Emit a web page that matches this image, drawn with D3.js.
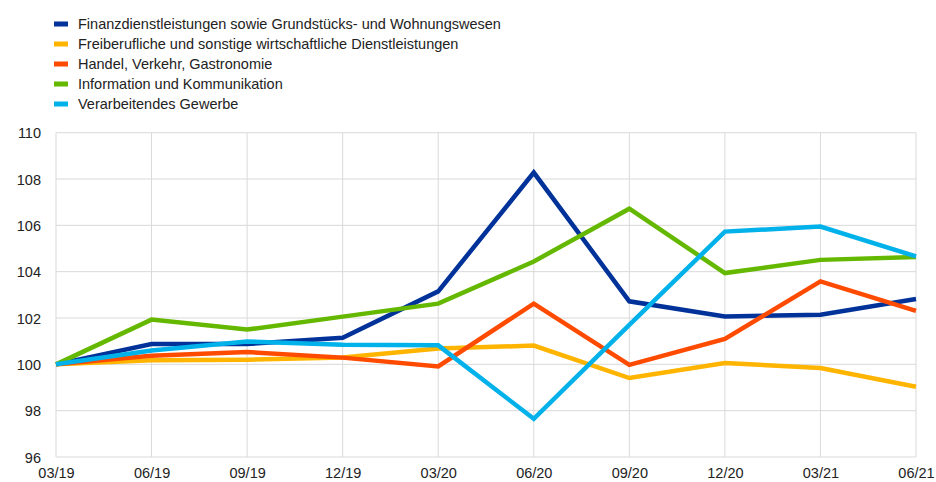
<!DOCTYPE html>
<html>
<head>
<meta charset="utf-8">
<script src="https://cdn.jsdelivr.net/npm/d3@7"></script>
<style>
  body { margin: 0; background: #fff; }
  text { font-family: "Liberation Sans", Arial, sans-serif; fill: #222; }
</style>
</head>
<body>
<div id="chart"></div>
<script>
var quarters = ['03/19', '06/19', '09/19', '12/19', '03/20', '06/20', '09/20', '12/20', '03/21', '06/21']
var yTicks = [96, 98, 100, 102, 104, 106, 108, 110]

var seriesNames = [
  'Finanzdienstleistungen sowie Grundstücks- und Wohnungswesen',
  'Freiberufliche und sonstige wirtschaftliche Dienstleistungen',
  'Handel, Verkehr, Gastronomie',
  'Information und Kommunikation',
  'Verarbeitendes Gewerbe'
]
var seriesColors = ['#003299', '#ffb400', '#ff4b00', '#65b800', '#00b1ea']

var finanz = [100, 100.88, 100.88, 101.15, 103.15, 108.28, 102.72, 102.07, 102.14, 102.82]
var freiberuf = [100, 100.18, 100.2, 100.3, 100.68, 100.81, 99.41, 100.06, 99.84, 99.03]
var handel = [100, 100.37, 100.53, 100.29, 99.91, 102.62, 99.98, 101.1, 103.58, 102.31]
var information = [100, 101.93, 101.5, 102.06, 102.62, 104.44, 106.72, 103.94, 104.51, 104.63]
var verarbeitend = [100, 100.6, 100.99, 100.85, 100.82, 97.65, 101.7, 105.73, 105.95, 104.66]

var allSeries = [finanz, freiberuf, handel, information, verarbeitend]

var width = 936
var height = 482
var margin = { top: 132.7, right: 20, bottom: 25, left: 56 }

var svg = d3.select('#chart').append('svg')
  .attr('width', width)
  .attr('height', height)

var x = d3.scalePoint()
  .domain(quarters)
  .range([margin.left, width - margin.right])

var y = d3.scaleLinear()
  .domain([96, 110])
  .range([height - margin.bottom, margin.top])

// grid
svg.append('g')
  .selectAll('line')
  .data(yTicks)
  .enter().append('line')
  .attr('x1', margin.left).attr('x2', width - margin.right)
  .attr('y1', function (d) { return y(d) }).attr('y2', function (d) { return y(d) })
  .attr('stroke', '#d9d9d9').attr('stroke-width', 1)

svg.append('g')
  .selectAll('line')
  .data(quarters)
  .enter().append('line')
  .attr('x1', function (d) { return x(d) }).attr('x2', function (d) { return x(d) })
  .attr('y1', y(110)).attr('y2', y(96))
  .attr('stroke', '#d9d9d9').attr('stroke-width', 1)

// axes
var yAxis = svg.append('g')
  .attr('transform', 'translate(' + (margin.left - 15) + ',0)')
  .call(d3.axisLeft(y).tickValues(yTicks).tickSize(0).tickPadding(0))
yAxis.select('.domain').remove()
yAxis.selectAll('text').attr('font-size', 14.5).attr('dy', '0.35em')

var xAxis = svg.append('g')
  .attr('transform', 'translate(0,' + (height - 4) + ')')
  .call(d3.axisBottom(x).tickSize(0).tickPadding(0))
xAxis.select('.domain').remove()
xAxis.selectAll('text').attr('font-size', 14.5).attr('dy', 0)

// lines
var line = d3.line()
  .x(function (d, i) { return x(quarters[i]) })
  .y(function (d) { return y(d) })

svg.append('g')
  .selectAll('path')
  .data(allSeries)
  .enter().append('path')
  .attr('d', line)
  .attr('fill', 'none')
  .attr('stroke', function (d, i) { return seriesColors[i] })
  .attr('stroke-width', 4.5)
  .attr('stroke-linejoin', 'miter')

// legend
var legend = svg.append('g')
  .selectAll('g')
  .data(seriesNames)
  .enter().append('g')
  .attr('transform', function (d, i) { return 'translate(54,' + (24 + i * 20) + ')' })

legend.append('rect')
  .attr('x', 0).attr('y', -2.5)
  .attr('width', 14).attr('height', 5)
  .attr('fill', function (d, i) { return seriesColors[i] })

legend.append('text')
  .attr('x', 24).attr('dy', '0.35em')
  .attr('font-size', 14.5)
  .text(function (d) { return d })
</script>
</body>
</html>
